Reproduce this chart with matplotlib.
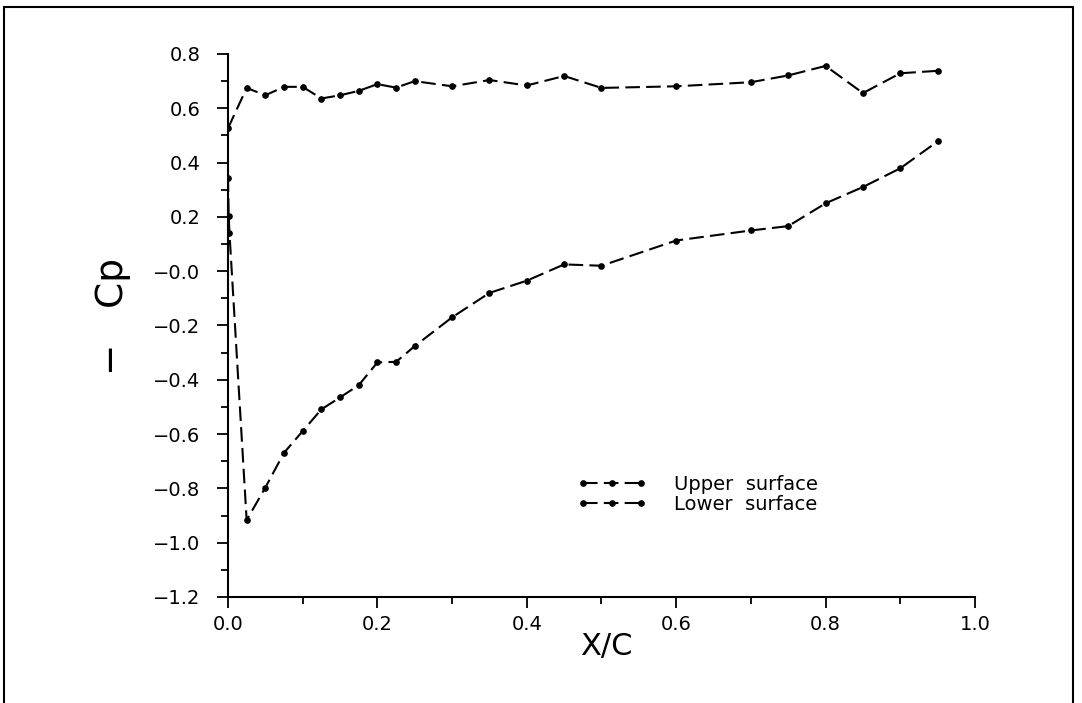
import matplotlib
matplotlib.use("Agg")
import matplotlib.pyplot as plt
import matplotlib.patches as patches
import numpy as np

# pressure distribution
x_upper = [0.0, 0.025, 0.05, 0.075, 0.1, 0.125, 0.15, 0.175, 0.2, 0.225, 0.25,
           0.3, 0.35, 0.4, 0.45, 0.5, 0.6, 0.7, 0.75, 0.8, 0.85, 0.9, 0.95]
cp_upper = [0.526, 0.675, 0.648, 0.679, 0.679, 0.636, 0.648, 0.664, 0.689, 0.676, 0.700,
            0.681, 0.704, 0.684, 0.719, 0.675, 0.681, 0.696, 0.721, 0.756, 0.656, 0.729, 0.738]

x_lower = [0.0, 0.001, 0.002, 0.025, 0.05, 0.075, 0.1, 0.125, 0.15, 0.175, 0.2, 0.225, 0.25,
           0.3, 0.35, 0.4, 0.45, 0.5, 0.6, 0.7, 0.75, 0.8, 0.85, 0.9, 0.95]
cp_lower = [0.345, 0.203, 0.14, -0.917, -0.797, -0.669, -0.589, -0.509, -0.465, -0.420, -0.336, -0.334, -0.276,
            -0.17, -0.08, -0.035, 0.025, 0.02, 0.113, 0.150, 0.166, 0.250, 0.310, 0.379, 0.478]

y_ticks = [0.8, 0.6, 0.4, 0.2, 0.0, -0.2, -0.4, -0.6, -0.8, -1.0, -1.2]
y_ticklabels = ["0.8", "0.6", "0.4", "0.2", "\u22120.0", "\u22120.2", "\u22120.4",
                "\u22120.6", "\u22120.8", "\u22121.0", "\u22121.2"]
x_ticks = [0.0, 0.2, 0.4, 0.6, 0.8, 1.0]
x_ticklabels = ["0.0", "0.2", "0.4", "0.6", "0.8", "1.0"]

plt.rcParams['font.family'] = ['DejaVu Sans']

fig = plt.figure(figsize=(10.82, 7.03), dpi=100)
ax = fig.add_axes([0.2107, 0.1508, 0.6904, 0.7724])

dash = (0, (7, 3))
ax.plot(x_upper, cp_upper, color="black", lw=1.5, linestyle=dash,
        marker="o", markersize=3.8, label="Upper  surface")
ax.plot(x_lower, cp_lower, color="black", lw=1.5, linestyle=dash,
        marker="o", markersize=3.8, label="Lower  surface")

ax.set_xlim(0, 1.0)
ax.set_ylim(-1.2, 0.8)
ax.spines['top'].set_visible(False)
ax.spines['right'].set_visible(False)
ax.spines['left'].set_linewidth(1.5)
ax.spines['bottom'].set_linewidth(1.5)

ax.set_yticks(y_ticks)
ax.set_yticklabels(y_ticklabels)
ax.set_xticks(x_ticks)
ax.set_xticklabels(x_ticklabels)
ax.set_yticks(np.arange(-1.1, 0.8, 0.2), minor=True)
ax.set_xticks(np.arange(0.1, 1.0, 0.2), minor=True)
ax.tick_params(which='major', direction='out', length=8, width=1.3, labelsize=14)
ax.tick_params(which='minor', direction='out', length=5, width=1.3)
ax.tick_params(axis='y', which='major', pad=12)
ax.tick_params(axis='x', which='major', pad=5)

ax.set_xlabel("X/C", fontsize=22)
ax.xaxis.set_label_coords(0.506, -0.065)
ax.set_ylabel("\u2212   Cp", fontsize=27)
ax.yaxis.set_label_coords(-0.13, 0.516)

ax.legend(loc='upper left', bbox_to_anchor=(0.454, 0.243), frameon=False,
          fontsize=14, handlelength=3.6, numpoints=3, borderpad=0,
          labelspacing=0.05, handletextpad=1.4)

# border round the whole page
fig.patches.append(patches.Rectangle((0.004, -0.01), 0.9877, 1.0,
                                     transform=fig.transFigure, fill=False,
                                     lw=1.5, edgecolor="black"))

fig.savefig("out.png", dpi=100)
